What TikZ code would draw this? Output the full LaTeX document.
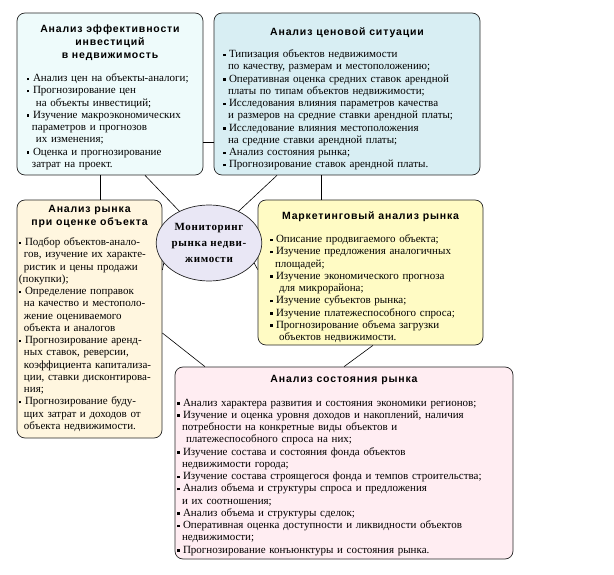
\documentclass[tikz,border=0pt]{standalone}
\usepackage{fontspec}
\setmainfont{Liberation Serif}
\newfontfamily\hdfont[LetterSpace=8]{Liberation Sans}
\newfontfamily\crfont[LetterSpace=6]{Liberation Serif}
\usetikzlibrary{positioning,shapes.geometric}

\definecolor{boxA}{HTML}{EEFBFB}
\definecolor{boxB}{HTML}{D8EEF3}
\definecolor{boxC}{HTML}{FFF6DF}
\definecolor{boxD}{HTML}{FFFBC4}
\definecolor{boxE}{HTML}{FFEDF2}
\definecolor{circ}{HTML}{E9E7F5}

\newcommand\hd{\hdfont\bfseries\fontsize{10.5}{13}\selectfont}
\newcommand\bodyfont{\fontsize{11}{12.25}\selectfont}
\newcommand\bl{\rule[1.6pt]{2.5pt}{2.5pt}\hspace{3.5pt}}
\newcommand\ct{\hspace*{5pt}}
\newcommand\ctt{\hspace*{9pt}}

\begin{document}
\begin{tikzpicture}[x=1pt, y=-1pt, node distance=1cm]
        \tikzstyle{block} = [rectangle, draw=black!85, line width=0.7pt, rounded corners=8pt, inner sep=0pt]
        \tikzstyle{head} = [align=center, inner sep=0pt, font=\hd]
        \tikzstyle{txt} = [align=left, inner sep=0pt, font=\bodyfont]
        \tikzstyle{link} = [draw, line width=0.6pt]

        \useasboundingbox (0,0) rectangle (614,575);

        % boxes
        \node [block, fill=boxA, minimum width=186pt, minimum height=162pt] (b1) at (110,94) {};
        \node [block, fill=boxB, minimum width=266pt, minimum height=162pt] (b2) at (347,94) {};
        \node [block, fill=boxC, minimum width=145pt, minimum height=238pt] (b3) at (89.5,319) {};
        \node [block, fill=boxD, minimum width=225pt, minimum height=145pt] (b4) at (370.5,272.5) {};
        \node [block, fill=boxE, minimum width=338pt, minimum height=192pt] (b5) at (344,463) {};
        \node [ellipse, draw=black!85, line width=0.7pt, fill=circ, minimum width=82pt, minimum height=76pt, inner sep=0pt,
               align=center, font=\crfont\bfseries\fontsize{11}{16}\selectfont] (mon) at (209,243) {Мониторинг\\рынка недви-\\жимости};

        % headings
        \node [head, below=12pt of b1.north] (h1) {Анализ эффективности\\инвестиций\\в недвижимость};
        \node [head, below=15pt of b2.north] (h2) {Анализ ценовой\ ситуации};
        \node [head, below=5pt of b3.north] (h3) {Анализ рынка\\при оценке объекта};
        \node [head, below=12pt of b4.north] (h4) {Маркетинговый анализ рынка};
        \node [head, below=8pt of b5.north] (h5) {Анализ состояния рынка};

        % lists
        \node [txt, text width=166pt, below=61pt of b1.north] (t1) {\bl Анализ цен на объекты-аналоги;\\
          \bl Прогнозирование цен\\ \ctt на объекты инвестиций;\\
          \bl Изучение макроэкономических\\ \ct параметров и прогнозов\\ \ctt их изменения;\\
          \bl Оценка и прогнозирование\\ \ct затрат на проект.};
        \node [txt, text width=248pt, below=37pt of b2.north] (t2) {\bl Типизация объектов\ недвижимости\\
          \ct по качеству, размерам и местоположению;\\
          \bl Оперативная оценка средних ставок арендной\\ \ct платы по\ типам объектов\ недвижимости;\\
          \bl Исследования влияния параметров\ качества\\ \ct и размеров на средние ставки арендной платы;\\
          \bl Исследование влияния\ местоположения\\ \ct на средние ставки арендной платы;\\
          \bl Анализ состояния рынка;\\
          \bl Прогнозирование ставок арендной платы.};
        \node [txt, text width=141pt, below=38pt of b3.north] (t3) {\bl Подбор объектов-анало-\\
          \ct гов, изучение их характе-\\ \ct ристик и цены продажи\\ (покупки);\\
          \bl Определение\ поправок\\ \ct на качество и местополо-\\ \ct жение\ оцениваемого\\ \ct объекта и аналогов\\
          \bl Прогнозирование аренд-\\ \ct ных ставок, реверсии,\\ \ct коэффициента капитализа-\\ \ct ции, ставки дисконтирова-\\ \ct ния;\\
          \bl Прогнозирование буду-\\ \ct щих затрат и доходов от\\ \ct объекта\ недвижимости.};
        \node [txt, text width=201pt, below=35pt of b4.north] (t4) {\bl Описание продвигаемого\ объекта;\\
          \bl Изучение\ предложения аналогичных\\ \ct площадей;\\
          \bl Изучение экономического прогноза\\ \ctt для микрорайона;\\
          \bl Изучение субъектов рынка;\\
          \bl Изучение\ платежеспособного спроса;\\
          \bl Прогнозирование объема загрузки\\ \ctt объектов недвижимости.};
        \node [txt, text width=334pt, below=32pt of b5.north] (t5) {\bl Анализ\ характера развития и состояния экономики регионов;\\
          \bl Изучение и оценка уровня доходов\ и накоплений,\ наличия\\
          \ct потребности на конкретные виды объектов\ и\\ \ctt платежеспособного\ спроса\ на них;\\
          \bl Изучение\ состава и состояния фонда объектов\\ \ct недвижимости города;\\
          \bl Изучение состава строящегося фонда и темпов строительства;\\
          \bl Анализ объема и структуры спроса и предложения\\ \ct и их соотношения;\\
          \bl Анализ объема и структуры сделок;\\
          \bl Оперативная\ оценка доступности и ликвидности объектов\\ \ct недвижимости;\\
          \bl Прогнозирование конъюнктуры и состояния рынка.};

        % connectors
        \draw [link] ([xshift=-10pt]b1.south) -- ([xshift=-10pt]b1.south |- b3.north);
        \draw [link] ([xshift=35pt]b1.south) -- (mon.133);
        \draw [link] ([yshift=-48pt]b1.east) -- ([yshift=-48pt]b1.east -| b2.west);
        \draw [link] ([xshift=-70pt]b2.south) -- (mon.47);
        \draw [link] ([xshift=-26pt]b2.south) -- ([xshift=-26pt]b2.south |- b4.north);
        \draw [link] ([yshift=49pt]b3.east) -- (mon.204);
        \draw [link] ([yshift=3pt]b4.west) -- (mon.336);
        \draw [link] ([yshift=-14pt]b3.east) -- ([xshift=-139pt]b5.north);
        \draw [link] ([xshift=2.5pt]b4.south) -- (b5.north);
\end{tikzpicture}
\end{document}
